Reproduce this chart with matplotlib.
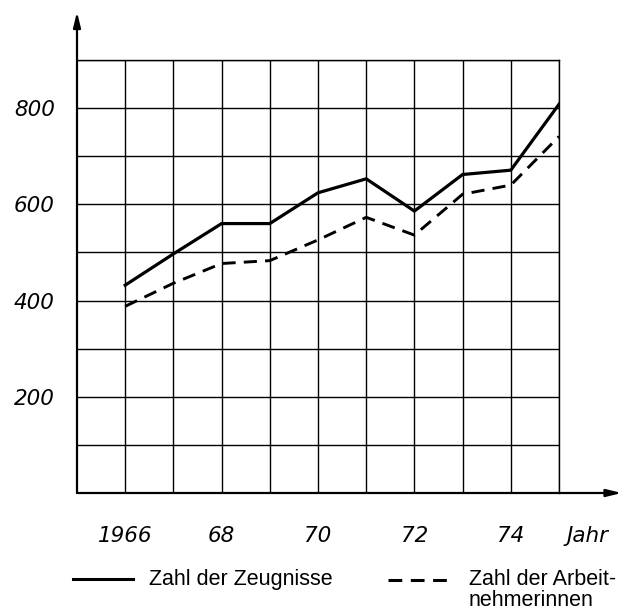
import matplotlib.pyplot as plt
from matplotlib.lines import Line2D

W, H = 629, 610

years = [1966, 1967, 1968, 1969, 1970, 1971, 1972, 1973, 1974, 1975]
zeugnisse = [432, 497, 560, 560, 624, 653, 586, 662, 671, 808]
arbeitnehmerinnen = [388, 436, 477, 483, 526, 573, 536, 621, 640, 741]

x_ticks = [1966, 1968, 1970, 1972, 1974]
x_labels = ['1966', '68', '70', '72', '74']
y_ticks = [200, 400, 600, 800]
y_labels = ['200', '400', '600', '800']

label_zeugnisse = 'Zahl der Zeugnisse'
label_arbeit = 'Zahl der Arbeit-\nnehmerinnen'


def px(x, y):
    # Pixel (von oben links) -> Figurkoordinaten
    return x / W, 1 - y / H


fig = plt.figure(figsize=(W / 100, H / 100), dpi=100)
left, top = px(77, 60)
right, bottom = px(559, 493)
ax = fig.add_axes([left, bottom, right - left, top - bottom])

# Gitter
for yr in range(1966, 1976):
    ax.axvline(yr, color='black', lw=1.0, zorder=1)
for v in range(100, 901, 100):
    ax.axhline(v, color='black', lw=1.0, zorder=1)

for s in ['left', 'bottom']:
    ax.spines[s].set_visible(False)
for s in ['top', 'right']:
    ax.spines[s].set_linewidth(1.0)

ax.plot(years, zeugnisse, color='black', lw=2.3, zorder=3,
        solid_joinstyle='miter')
ax.plot(years, arbeitnehmerinnen, color='black', lw=2.1, zorder=3,
        dashes=(4.5, 2.8))

ax.set_xticks(x_ticks)
ax.set_xticklabels(x_labels)
ax.set_yticks(y_ticks)
ax.set_yticklabels(y_labels)
ax.set_xlim(1965, 1975)
ax.set_ylim(0, 900)
ax.tick_params(length=0)
ax.tick_params(axis='x', pad=24)
ax.tick_params(axis='y', pad=16)
for t in ax.get_xticklabels() + ax.get_yticklabels():
    t.set_fontfamily('DejaVu Sans')
    t.set_fontstyle('italic')
    t.set_fontsize(15.5)

# Achsenbeschriftung "Jahr" neben der letzten Zahl
ax.annotate('Jahr', xy=(1975.6, 0), xytext=(0, -24),
            textcoords='offset points', ha='center', va='top',
            family='DejaVu Sans', style='italic', fontsize=15.5,
            annotation_clip=False)

# Achsen mit Pfeilen
arrow = dict(arrowstyle='-|>,head_length=0.9,head_width=0.22', lw=1.6,
             color='black', shrinkA=0, shrinkB=0)
ax.annotate('', xy=(1965, 1000), xytext=(1965, 0), arrowprops=arrow,
            annotation_clip=False)
ax.annotate('', xy=(1976.3, 0), xytext=(1965, 0), arrowprops=arrow,
            annotation_clip=False)

# Legende von Hand
x0, y0 = px(73, 579)
x1, _ = px(133, 579)
fig.add_artist(Line2D([x0, x1], [y0, y0], color='black', lw=2.2,
                      transform=fig.transFigure))
x0, y0 = px(388, 580)
x1, _ = px(450, 580)
fig.add_artist(Line2D([x0, x1], [y0, y0], color='black', lw=2.2,
                      dashes=(4.5, 2.8), transform=fig.transFigure))

tx, ty = px(149, 569)
fig.text(tx, ty, label_zeugnisse, family='Liberation Sans', fontsize=15.5,
         va='top', ha='left')
tx, ty = px(469, 569)
fig.text(tx, ty, label_arbeit, family='Liberation Sans', fontsize=15.5,
         va='top', ha='left', linespacing=1.0)

fig.savefig('out.png', dpi=100)
